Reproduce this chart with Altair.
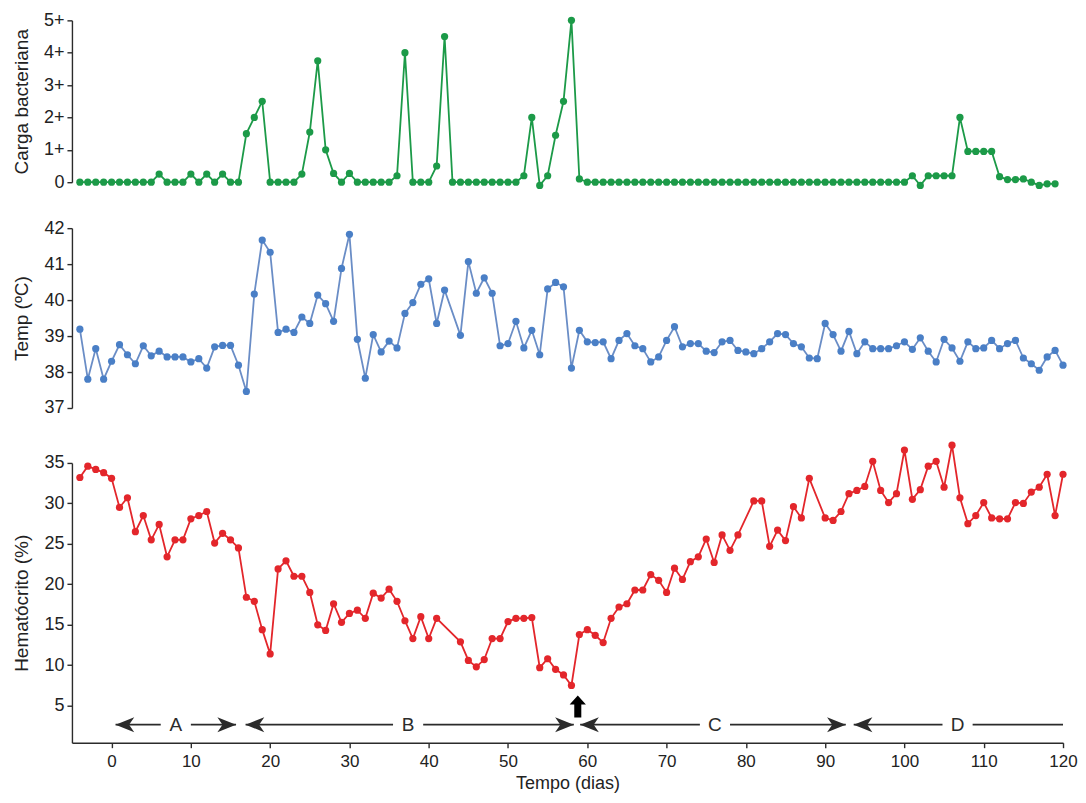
import altair as alt
import pandas as pd

FONT = "Liberation Sans, Arial, Helvetica, sans-serif"

# ---------------- data ----------------
# Carga bacteriana (0 .. 5+), one reading per day from day -4 to day 119
bact_days = list(range(-4, 120))
bact_vals = [
    0, 0, 0, 0, 0, 0, 0, 0, 0, 0,            # -4 .. 5
    0.25, 0, 0, 0, 0.25, 0, 0.25, 0, 0.25, 0, 0,  # 6 .. 16
    1.5, 2.0, 2.5, 0, 0, 0, 0, 0.25, 1.55, 3.75,  # 17 .. 26
    1.0, 0.27, 0, 0.27, 0, 0, 0, 0, 0, 0.2,       # 27 .. 36
    4.0, 0, 0, 0, 0.5, 4.5, 0, 0, 0, 0,           # 37 .. 46
    0, 0, 0, 0, 0, 0.2, 2.0, -0.1, 0.2, 1.45,     # 47 .. 56
    2.5, 5.0, 0.1, 0, 0, 0, 0, 0, 0, 0,           # 57 .. 66
    0, 0, 0, 0, 0, 0, 0, 0, 0, 0,                 # 67 .. 76
    0, 0, 0, 0, 0, 0, 0, 0, 0, 0,                 # 77 .. 86
    0, 0, 0, 0, 0, 0, 0, 0, 0, 0,                 # 87 .. 96
    0, 0, 0, 0, 0.2, -0.1, 0.2, 0.2, 0.2, 0.2,    # 97 .. 106
    2.0, 0.95, 0.95, 0.95, 0.95, 0.17, 0.08, 0.08, 0.1, 0.0,  # 107 .. 116
    -0.1, -0.05, -0.05,                           # 117 .. 119
]

# Temperatura (ºC)
temp_days = list(range(-4, 43)) + list(range(44, 121))
temp_vals = [
    39.19, 37.8, 38.65, 37.8, 38.3, 38.76, 38.48, 38.23, 38.73, 38.45,   # -4 .. 5
    38.58, 38.42, 38.42, 38.42, 38.28, 38.37, 38.11, 38.7, 38.74, 38.74,  # 6 .. 15
    38.19, 37.46, 40.17, 41.67, 41.33, 39.1, 39.19, 39.1, 39.53, 39.35,  # 16 .. 25
    40.14, 39.9, 39.41, 40.88, 41.83, 38.91, 37.83, 39.04, 38.56, 38.86,  # 26 .. 35
    38.67, 39.63, 39.93, 40.44, 40.59, 39.35, 40.28,                     # 36 .. 42
    39.02, 41.07, 40.19, 40.62, 40.19, 38.73, 38.79, 39.41, 38.67, 39.16,  # 44 .. 53
    38.48, 40.31, 40.49, 40.37, 38.11, 39.16, 38.84, 38.82, 38.84, 38.37,  # 54 .. 63
    38.88, 39.07, 38.73, 38.65, 38.28, 38.42, 38.88, 39.26, 38.7, 38.79,  # 64 .. 73
    38.79, 38.58, 38.54, 38.84, 38.88, 38.6, 38.56, 38.51, 38.65, 38.84,  # 74 .. 83
    39.07, 39.04, 38.79, 38.7, 38.39, 38.37, 39.35, 39.04, 38.58, 39.13,  # 84 .. 93
    38.51, 38.84, 38.65, 38.65, 38.65, 38.73, 38.84, 38.63, 38.95, 38.58,  # 94 .. 103
    38.28, 38.91, 38.67, 38.3, 38.84, 38.65, 38.67, 38.88, 38.65, 38.79,  # 104 .. 113
    38.88, 38.39, 38.23, 38.05, 38.42, 38.6, 38.19,                     # 114 .. 120
]

# Hematócrito (%)
hct_days = (list(range(-4, 42)) + list(range(44, 80)) + list(range(81, 89))
            + list(range(90, 121)))
hct_vals = [
    33.2, 34.6, 34.2, 33.8, 33.1, 29.5, 30.7, 26.5, 28.5, 25.5,   # -4 .. 5
    27.4, 23.4, 25.5, 25.5, 28.1, 28.5, 29.0, 25.1, 26.3, 25.5,   # 6 .. 15
    24.5, 18.4, 17.9, 14.4, 11.4, 21.9, 22.9, 21.0, 21.0, 19.0,   # 16 .. 25
    15.0, 14.3, 17.6, 15.3, 16.4, 16.8, 15.8, 18.9, 18.3, 19.4,   # 26 .. 35
    17.9, 15.5, 13.3, 16.0, 13.3, 15.8,                           # 36 .. 41
    12.9, 10.6, 9.8, 10.7, 13.3, 13.3, 15.4, 15.8, 15.8, 15.9,    # 44 .. 53
    9.7, 10.8, 9.5, 8.8, 7.5, 13.8, 14.4, 13.7, 12.8, 15.8,       # 54 .. 63
    17.2, 17.6, 19.3, 19.3, 21.2, 20.5, 19.0, 22.0, 20.6, 22.8,   # 64 .. 73
    23.4, 25.6, 22.7, 26.1, 24.2, 26.1,                           # 74 .. 79
    30.3, 30.3, 24.7, 26.7, 25.4, 29.6, 28.2, 33.1,               # 81 .. 88
    28.2, 27.9, 29.0, 31.2, 31.6, 32.1, 35.2, 31.6, 30.1, 31.2,   # 90 .. 99
    36.6, 30.5, 31.7, 34.6, 35.2, 32.0, 37.2, 30.7, 27.5, 28.5,   # 100 .. 109
    30.1, 28.2, 28.1, 28.1, 30.1, 30.0, 31.4, 32.0, 33.6, 28.5,   # 110 .. 119
    33.6,                                                         # 120
]

# phases A-D drawn under the haematocrit curve
phase_labels = ["A", "B", "C", "D"]
phase_start = [0.5, 16.9, 59.1, 93.6]
phase_end = [15.7, 58.3, 92.6, 120.0]
phase_label_day = [8.1, 37.4, 76.1, 106.7]
phase_right_arrow = [True, True, True, False]
phase_level = 2.65

# black arrow marking the lowest haematocrit
marker_day = [58.8]
marker_level = [4.9]

bact_ticks = [0, 1, 2, 3, 4, 5]
temp_ticks = [37, 38, 39, 40, 41, 42]
hct_ticks = [5, 10, 15, 20, 25, 30, 35]
day_ticks = [0, 10, 20, 30, 40, 50, 60, 70, 80, 90, 100, 110, 120]

GREEN = "#1c9a48"
BLUE = "#4a7fc6"
BLUE_LINE = "#6a8dc6"
RED = "#e3262b"
INK = "#2b2b2b"

W = 992
X_DOMAIN = [-5, 120]
TITLE_X = -50
SPACING = 46

H_TOP, H_MID = 162, 180
H_BOT = 289           # plot height of the bottom panel
BOT_TOP_GAP = 9       # the haematocrit axis starts this far below the panel top
HCT_DOM = [0.43, 35]

xs = alt.Scale(domain=X_DOMAIN, nice=False, zero=False)


def y_axis(title, ticks, label_expr=None):
    kw = dict(values=ticks, title=title, titleX=TITLE_X, titleBaseline="middle",
              tickSize=5, labelPadding=3, grid=False)
    if label_expr:
        kw["labelExpr"] = label_expr
    return alt.Axis(**kw)


def series(df, color, line_color, yscale, axis, xaxis=None):
    base = alt.Chart(df).encode(
        x=alt.X("dia:Q", scale=xs, axis=xaxis),
        y=alt.Y("v:Q", scale=yscale, axis=axis))
    line = base.mark_line(color=line_color, strokeWidth=1.8)
    pts = base.mark_circle(color=color, size=52, opacity=1)
    return line + pts


bact_df = pd.DataFrame({"dia": bact_days, "v": bact_vals})
temp_df = pd.DataFrame({"dia": temp_days, "v": temp_vals})
hct_df = pd.DataFrame({"dia": hct_days, "v": hct_vals})

top = series(bact_df, GREEN, GREEN,
             alt.Scale(domain=[0, 5], nice=False, zero=False),
             y_axis("Carga bacteriana", bact_ticks,
                    "datum.value == 0 ? '0' : datum.value + '+'")
             ).properties(width=W, height=H_TOP)

mid = series(temp_df, BLUE, BLUE_LINE,
             alt.Scale(domain=[37, 42], nice=False, zero=False),
             y_axis("Temp (ºC)", temp_ticks)).properties(width=W, height=H_MID)

ys = alt.Scale(domain=HCT_DOM, range=[H_BOT, BOT_TOP_GAP], nice=False, zero=False)

x_axis = alt.Axis(values=day_ticks, title="Tempo (dias)", tickSize=5, labelPadding=6,
                  titlePadding=5, grid=False, labelFlush=False, labelFontSize=17,
                  titleFontSize=18)
hct_series = series(hct_df, RED, RED, ys, y_axis("Hematócrito (%)", hct_ticks),
                    xaxis=x_axis)

# phase segments (lines with a gap around each letter)
GAP = 1.9
seg_rows = []
head_rows = []
for lab, s, e, c, ra in zip(phase_labels, phase_start, phase_end, phase_label_day,
                            phase_right_arrow):
    seg_rows.append({"dia": s, "dia2": c - GAP, "v": phase_level})
    seg_rows.append({"dia": c + GAP, "dia2": e, "v": phase_level})
    head_rows.append({"dia": s, "v": phase_level, "dir": "left"})
    if ra:
        head_rows.append({"dia": e, "v": phase_level, "dir": "right"})
seg_df = pd.DataFrame(seg_rows)
head_df = pd.DataFrame(head_rows)
lab_df = pd.DataFrame({"dia": phase_label_day, "v": [phase_level] * 4,
                       "lab": phase_labels})
mark_df = pd.DataFrame({"dia": marker_day, "v": marker_level})

segs = alt.Chart(seg_df).mark_rule(color=INK, strokeWidth=1.8).encode(
    x=alt.X("dia:Q", scale=xs), x2="dia2:Q", y=alt.Y("v:Q", scale=ys))

LEFT_HEAD = "M0,0 L2,-0.8 L1.45,0 L2,0.8 Z"
RIGHT_HEAD = "M0,0 L-2,-0.8 L-1.45,0 L-2,0.8 Z"
heads_l = alt.Chart(head_df[head_df["dir"] == "left"]).mark_point(
    shape=LEFT_HEAD, filled=True, size=350, color=INK, opacity=1).encode(
    x=alt.X("dia:Q", scale=xs), y=alt.Y("v:Q", scale=ys))
heads_r = alt.Chart(head_df[head_df["dir"] == "right"]).mark_point(
    shape=RIGHT_HEAD, filled=True, size=350, color=INK, opacity=1).encode(
    x=alt.X("dia:Q", scale=xs), y=alt.Y("v:Q", scale=ys))

labels = alt.Chart(lab_df).mark_text(font=FONT, fontSize=19, color=INK,
                                     baseline="middle", align="center").encode(
    x=alt.X("dia:Q", scale=xs), y=alt.Y("v:Q", scale=ys), text="lab:N")

UP_ARROW = ("M0,-1 L0.74,-0.18 L0.32,-0.18 L0.32,1 L-0.32,1 L-0.32,-0.18 "
            "L-0.74,-0.18 Z")
up = alt.Chart(mark_df).mark_point(shape=UP_ARROW, filled=True, size=484,
                                   color="#000000", opacity=1).encode(
    x=alt.X("dia:Q", scale=xs), y=alt.Y("v:Q", scale=ys))

bottom = (hct_series + segs + heads_l + heads_r + labels + up).properties(
    width=W, height=H_BOT)

chart = alt.vconcat(top, mid, bottom, spacing=SPACING, bounds="flush").properties(
    padding={"left": 4, "top": 3, "right": 0, "bottom": 0}
).configure_view(stroke=None).configure_axis(
    domainColor=INK, domainWidth=1.4, tickColor=INK, tickWidth=1.4,
    labelColor="#222222", titleColor="#222222", labelFont=FONT, titleFont=FONT,
    labelFontSize=18, titleFontSize=19, titleFontWeight="normal", grid=False,
)

chart.save("out.html", embed_options={"renderer": "svg", "actions": False})
